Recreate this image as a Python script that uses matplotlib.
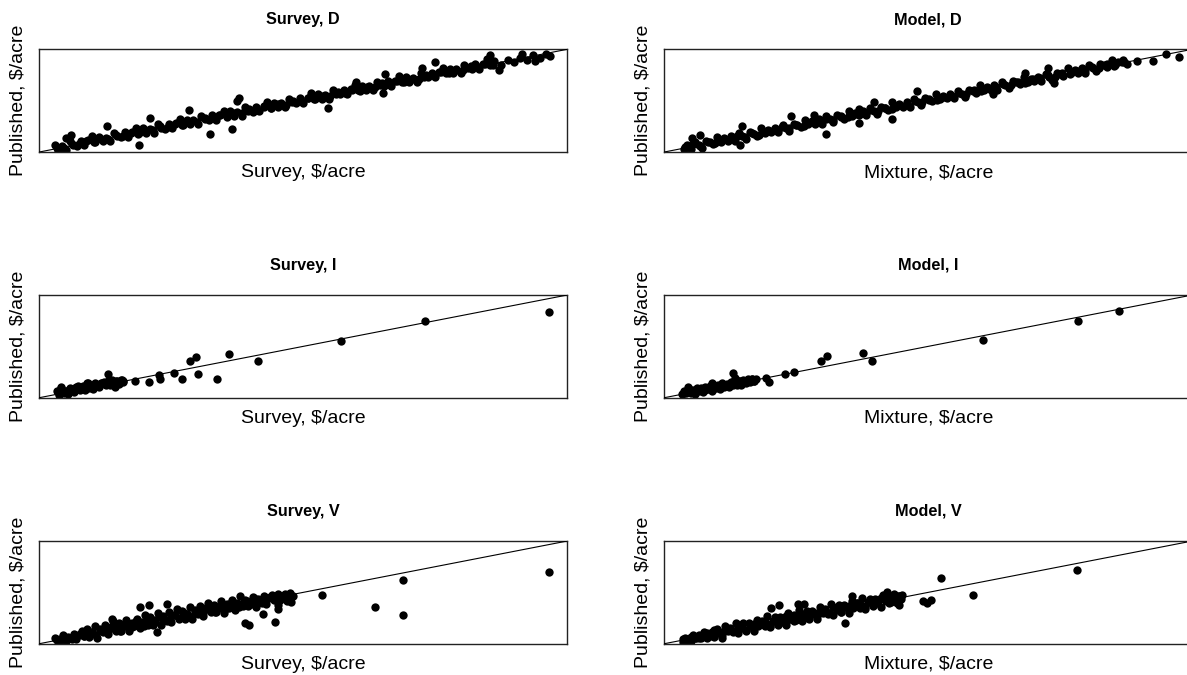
import matplotlib
matplotlib.use("Agg")
import matplotlib.pyplot as plt

plt.rcParams['font.family'] = ['Liberation Sans', 'DejaVu Sans']

# values, in plot units (box = 0..100 on both axes)
sd_x = [3.0, 3.6, 4.3, 5.1, 5.8, 6.4, 7.2, 7.9, 8.5, 9.3, 10.0, 10.6,
        11.3, 12.0, 12.6, 13.4, 14.1, 14.7, 15.5, 16.2, 16.8, 17.6, 18.3, 18.9,
        19.6, 20.3, 20.9, 21.7, 22.4, 23.0, 23.8, 24.5, 25.1, 25.9, 26.6, 27.2,
        27.9, 28.6, 29.2, 30.0, 30.7, 31.3, 32.1, 32.8, 33.4, 34.2, 34.9, 35.5,
        36.2, 36.9, 37.5, 38.3, 39.0, 39.6, 40.4, 41.1, 41.7, 42.5, 43.2, 43.8,
        44.5, 45.2, 45.8, 46.6, 47.3, 47.9, 48.7, 49.4, 50.0, 50.8, 51.5, 52.1,
        52.8, 53.5, 54.1, 54.9, 55.6, 56.2, 57.0, 57.7, 58.3, 59.1, 59.8, 60.4,
        61.1, 61.8, 62.4, 63.2, 63.9, 64.5, 65.3, 66.0, 66.6, 67.4, 68.1, 68.7,
        69.4, 70.1, 70.7, 71.5, 72.2, 72.8, 73.6, 74.3, 74.9, 75.7, 76.4, 77.0,
        77.7, 78.4, 79.0, 79.8, 80.5, 81.1, 81.9, 82.6, 83.2, 84.0, 84.7, 85.3,
        86.2, 87.5, 88.8, 89.9, 91.0, 92.3, 93.5, 94.8, 96.0,
        5.0, 6.0, 12.9, 18.8, 21.0, 28.3, 32.3, 36.5, 37.5, 37.8, 54.6,
        60.0, 65.4, 65.0, 75.0, 72.4, 85.3, 91.4, 93.8, 96.7, 87.0]
sd_y = [6.5, 2.1, 5.8, 2.1, 10.3, 6.9, 6.2, 10.9, 6.5, 11.3, 15.5, 10.1,
        14.8, 10.5, 14.1, 10.4, 18.6, 15.2, 14.5, 19.2, 14.8, 19.6, 23.8, 18.4,
        23.1, 18.8, 22.4, 18.7, 26.9, 23.5, 22.8, 27.5, 23.1, 27.9, 32.1, 26.7,
        31.4, 27.1, 30.7, 27.0, 35.2, 31.8, 31.1, 35.8, 31.4, 36.2, 40.4, 35.0,
        39.7, 35.4, 39.0, 35.3, 43.5, 40.1, 39.4, 44.1, 39.7, 44.5, 48.7, 43.3,
        48.0, 43.7, 47.3, 43.6, 51.8, 48.4, 47.7, 52.4, 48.0, 52.8, 57.0, 51.6,
        56.3, 52.0, 55.6, 51.9, 60.1, 56.7, 56.0, 60.7, 56.3, 61.1, 65.3, 59.9,
        64.6, 60.3, 63.9, 60.2, 68.4, 65.0, 64.3, 69.0, 64.6, 69.4, 73.6, 68.2,
        72.9, 68.6, 72.2, 68.5, 76.7, 73.3, 72.6, 77.3, 72.9, 77.7, 81.9, 76.5,
        81.2, 76.9, 80.5, 76.8, 85.0, 81.6, 80.9, 85.6, 81.2, 86.0, 90.2, 84.8,
        88.5, 85.0, 89.5, 87.5, 91.5, 90.0, 94.0, 92.0, 95.0,
        13.7, 17.0, 25.0, 7.0, 33.5, 41.0, 18.0, 22.0, 50.0, 52.5, 43.0,
        68.0, 76.0, 57.0, 88.0, 82.0, 94.5, 95.4, 88.6, 93.0, 80.0]
# points in the middle of the dense band
sd_core_x = [3.3, 4.7, 6.1, 7.5, 8.9, 10.3, 11.7, 13.1, 14.5, 15.9, 17.3, 18.7,
             20.1, 21.5, 22.9, 24.3, 25.7, 27.1, 28.5, 29.9, 31.3, 32.7, 34.1, 35.5,
             36.9, 38.3, 39.7, 41.1, 42.5, 43.9, 45.3, 46.7, 48.1, 49.5, 50.9, 52.3,
             53.7, 55.1, 56.5, 57.9, 59.3, 60.7, 62.1, 63.5, 64.9, 66.3, 67.7, 69.1,
             70.5, 71.9, 73.3, 74.7, 76.1, 77.5, 78.9, 80.3, 81.7, 83.1, 84.5, 85.9]
sd_core_y = [4.3, 4.2, 8.1, 7.5, 10.4, 9.3, 12.7, 12.6, 16.5, 15.9, 18.8, 17.7,
             21.1, 21.0, 24.9, 24.3, 27.2, 26.1, 29.5, 29.4, 33.3, 32.7, 35.6, 34.5,
             37.9, 37.8, 41.7, 41.1, 44.0, 42.9, 46.3, 46.2, 50.1, 49.5, 52.4, 51.3,
             54.7, 54.6, 58.5, 57.9, 60.8, 59.7, 63.1, 63.0, 66.9, 66.3, 69.2, 68.1,
             71.5, 71.4, 75.3, 74.7, 77.6, 76.5, 79.9, 79.8, 83.7, 83.1, 86.0, 84.9]

md_x = [3.7, 4.3, 5.0, 5.8, 6.5, 7.1, 7.9, 8.6, 9.2, 10.0, 10.7, 11.3,
        12.0, 12.7, 13.3, 14.1, 14.8, 15.4, 16.2, 16.9, 17.5, 18.3, 19.0, 19.6,
        20.3, 21.0, 21.6, 22.4, 23.1, 23.7, 24.5, 25.2, 25.8, 26.6, 27.3, 27.9,
        28.6, 29.3, 29.9, 30.7, 31.4, 32.0, 32.8, 33.5, 34.1, 34.9, 35.6, 36.2,
        36.9, 37.6, 38.2, 39.0, 39.7, 40.3, 41.1, 41.8, 42.4, 43.2, 43.9, 44.5,
        45.2, 45.9, 46.5, 47.3, 48.0, 48.6, 49.4, 50.1, 50.7, 51.5, 52.2, 52.8,
        53.5, 54.2, 54.8, 55.6, 56.3, 56.9, 57.7, 58.4, 59.0, 59.8, 60.5, 61.1,
        61.8, 62.5, 63.1, 63.9, 64.6, 65.2, 66.0, 66.7, 67.3, 68.1, 68.8, 69.4,
        70.1, 70.8, 71.4, 72.2, 72.9, 73.5, 74.3, 75.0, 75.6, 76.4, 77.1, 77.7,
        78.4, 79.1, 79.7, 80.5, 81.2, 81.8, 82.6, 83.3, 83.9, 84.7, 85.4, 86.0,
        86.8, 87.6,
        5.2, 6.8, 14.7, 14.3, 24.0, 28.3, 30.7, 36.8, 36.8, 39.8, 43.1,
        47.9, 68.4, 72.6, 62.3, 73.8, 89.6, 92.5, 95.1, 97.5, 87.1]
md_y = [2.7, 6.8, 2.5, 9.8, 7.0, 4.1, 10.9, 9.6, 7.7, 15.0, 10.2, 13.3,
        11.0, 15.2, 10.8, 18.1, 15.3, 12.4, 19.2, 17.9, 16.0, 23.3, 18.5, 21.6,
        19.3, 23.5, 19.1, 26.4, 23.6, 20.7, 27.5, 26.2, 24.3, 31.6, 26.8, 29.9,
        27.6, 31.8, 27.4, 34.7, 31.9, 29.0, 35.8, 34.5, 32.6, 39.9, 35.1, 38.2,
        35.9, 40.1, 35.7, 43.0, 40.2, 37.3, 44.1, 42.8, 40.9, 48.2, 43.4, 46.5,
        44.2, 48.4, 44.0, 51.3, 48.5, 45.6, 52.4, 51.1, 49.2, 56.5, 51.7, 54.8,
        52.5, 56.7, 52.3, 59.6, 56.8, 53.9, 60.7, 59.4, 57.5, 64.8, 60.0, 63.1,
        60.8, 65.0, 60.6, 67.9, 65.1, 62.2, 69.0, 67.7, 65.8, 73.1, 68.3, 71.4,
        69.1, 73.3, 68.9, 76.2, 73.4, 70.5, 77.3, 76.0, 74.1, 81.4, 76.6, 79.7,
        77.4, 81.6, 77.2, 84.5, 81.7, 78.8, 85.6, 84.3, 82.4, 89.7, 84.9, 88.0,
        89.5, 86.0,
        14.0, 17.0, 25.0, 6.5, 34.9, 36.5, 17.9, 28.3, 42.3, 48.9, 32.6,
        59.3, 77.2, 82.1, 56.0, 66.8, 88.6, 88.6, 95.4, 92.8, 88.0]
md_core_x = [4.0, 5.4, 6.8, 8.2, 9.6, 11.0, 12.4, 13.8, 15.2, 16.6, 18.0, 19.4,
             20.8, 22.2, 23.6, 25.0, 26.4, 27.8, 29.2, 30.6, 32.0, 33.4, 34.8, 36.2,
             37.6, 39.0, 40.4, 41.8, 43.2, 44.6, 46.0, 47.4, 48.8, 50.2, 51.6, 53.0,
             54.4, 55.8, 57.2, 58.6, 60.0, 61.4, 62.8, 64.2, 65.6, 67.0, 68.4, 69.8,
             71.2, 72.6, 74.0, 75.4, 76.8, 78.2, 79.6, 81.0, 82.4, 83.8, 85.2, 86.6]
md_core_y = [4.5, 7.4, 6.3, 9.7, 8.6, 12.0, 12.9, 15.8, 14.7, 18.1, 17.0, 20.4,
             21.3, 24.2, 23.1, 26.5, 25.4, 28.8, 29.7, 32.6, 31.5, 34.9, 33.8, 37.2,
             38.1, 41.0, 39.9, 43.3, 42.2, 45.6, 46.5, 49.4, 48.3, 51.7, 50.6, 54.0,
             54.9, 57.8, 56.7, 60.1, 59.0, 62.4, 63.3, 66.2, 65.1, 68.5, 67.4, 70.8,
             71.7, 74.6, 73.5, 76.9, 75.8, 79.2, 80.1, 83.0, 81.9, 85.3, 84.2, 87.6]

si_x = [3.4, 3.8, 4.2, 4.6, 5.0, 5.4, 5.8, 6.2, 6.6, 7.0, 7.4, 7.8,
        8.2, 8.6, 9.0, 9.4, 9.8, 10.2, 10.6, 11.0, 11.4, 11.8, 12.2, 12.6,
        13.0, 13.4, 13.8, 14.2, 14.6, 15.0, 15.4, 15.8,
        4.1, 13.0, 9.2, 14.3, 15.9, 18.1, 20.7, 22.7, 22.9, 25.6, 27.0,
        28.6, 29.6, 30.1, 33.6, 35.9, 41.5, 57.2, 73.1, 96.6]
si_y = [6.4, 2.8, 9.2, 4.6, 7.0, 3.4, 9.8, 7.2, 5.6, 10.0, 11.4, 7.8,
        11.2, 7.6, 14.0, 9.4, 11.8, 8.2, 14.6, 12.0, 10.4, 14.8, 15.2, 12.6,
        16.0, 12.4, 16.8, 14.2, 16.6, 13.0, 17.4, 16.4,
        10.4, 23.5, 14.7, 10.4, 15.3, 16.3, 15.3, 21.8, 18.6, 24.4, 18.6,
        35.5, 40.1, 23.5, 18.6, 42.7, 35.5, 55.4, 74.6, 83.7]
si_core_x = [3.6, 4.4, 5.2, 6.0, 6.8, 7.6, 8.4, 9.2, 10.0, 10.8, 11.6, 12.4,
             13.2, 14.0, 14.8, 15.6]
si_core_y = [5.6, 6.9, 6.2, 8.0, 9.3, 8.6, 10.4, 11.7, 11.0, 12.8, 14.1, 13.4,
             15.2, 16.5, 15.8, 17.1]

mi_x = [3.4, 3.8, 4.2, 4.6, 5.0, 5.4, 5.8, 6.2, 6.6, 7.0, 7.4, 7.8,
        8.2, 8.6, 9.0, 9.4, 9.8, 10.2, 10.6, 11.0, 11.4, 11.8, 12.2, 12.6,
        13.0, 13.4, 13.8, 14.2, 14.6, 15.0, 15.4, 15.8, 16.2, 16.6, 17.0, 17.4,
        4.5, 9.0, 13.1, 13.4, 14.5, 17.0, 19.2, 19.8, 22.8, 24.6, 29.6,
        30.9, 37.6, 39.3, 60.3, 78.3, 86.2]
mi_y = [3.4, 6.8, 4.2, 8.6, 5.0, 7.4, 3.8, 9.2, 6.6, 8.0, 5.4, 10.8,
        8.2, 11.6, 7.0, 12.4, 9.8, 12.2, 8.6, 14.0, 10.4, 12.8, 10.2, 15.6,
        12.0, 15.4, 12.8, 16.2, 14.6, 17.0, 14.4, 17.8, 15.2, 18.6, 16.0, 18.4,
        10.5, 14.4, 24.3, 18.7, 12.0, 16.4, 19.3, 15.4, 23.0, 24.9, 35.7,
        40.7, 43.3, 36.1, 56.4, 75.0, 84.3]
mi_core_x = [3.8, 4.6, 5.4, 6.2, 7.0, 7.8, 8.6, 9.4, 10.2, 11.0, 11.8, 12.6,
             13.4, 14.2, 15.0, 15.8, 16.6]
mi_core_y = [4.8, 6.6, 5.4, 7.2, 9.0, 7.8, 9.6, 11.4, 10.2, 12.0, 13.8, 12.6,
             14.4, 16.2, 15.0, 16.8, 18.6]

sv_x = [3.0, 3.5, 4.0, 4.5, 5.0, 5.5, 6.0, 6.5, 7.0, 7.5, 8.0, 8.5,
        9.0, 9.5, 10.0, 10.5, 11.0, 11.5, 12.0, 12.5, 13.0, 13.5, 14.0, 14.5,
        15.0, 15.5, 16.0, 16.5, 17.0, 17.5, 18.0, 18.5, 19.0, 19.5, 20.0, 20.5,
        21.0, 21.5, 22.0, 22.5, 23.0, 23.5, 24.0, 24.5, 25.0, 25.5, 26.0, 26.5,
        27.0, 27.5, 28.0, 28.5, 29.0, 29.5, 30.0, 30.5, 31.0, 31.5, 32.0, 32.5,
        33.0, 33.5, 34.0, 34.5, 35.0, 35.5, 36.0, 36.5, 37.0, 37.5, 38.0, 38.5,
        39.0, 39.5, 40.0, 40.5, 41.0, 41.5, 42.0, 42.5, 43.0, 43.5, 44.0, 44.5,
        45.0, 45.5, 46.0, 46.5, 47.0, 47.5, 48.0,
        19.0, 20.8, 24.1, 13.8, 22.3, 39.0, 39.7, 42.3, 44.7, 45.3, 45.2,
        47.7, 53.5, 63.5, 68.8, 68.9, 96.6]
sv_y = [5.5, 2.0, 4.5, 8.0, 2.5, 7.0, 5.5, 9.5, 5.0, 8.5, 12.0, 7.5,
        14.0, 6.5, 11.0, 17.5, 6.0, 14.5, 11.0, 18.5, 9.0, 15.5, 22.0, 12.5,
        20.0, 12.5, 17.0, 23.5, 12.0, 20.5, 17.0, 24.5, 15.0, 21.5, 28.0, 18.5,
        26.0, 18.5, 23.0, 29.5, 18.0, 26.5, 23.0, 30.5, 21.0, 27.5, 34.0, 24.5,
        32.0, 24.5, 29.0, 35.5, 24.0, 32.5, 29.0, 36.5, 27.0, 33.5, 40.0, 30.5,
        38.0, 30.5, 35.0, 41.5, 30.0, 38.5, 35.0, 42.5, 33.0, 39.5, 46.0, 36.5,
        43.0, 36.5, 41.0, 45.5, 36.0, 43.5, 41.0, 46.0, 39.0, 44.5, 47.0, 42.5,
        46.5, 42.5, 45.0, 48.0, 42.0, 47.5, 46.0,
        35.7, 37.4, 38.7, 24.0, 11.5, 19.7, 18.0, 28.5, 21.3, 33.8, 37.7,
        41.0, 47.5, 35.4, 62.3, 28.2, 69.5]
sv_core_x = [3.25, 4.0, 4.75, 5.5, 6.25, 7.0, 7.75, 8.5, 9.25, 10.0, 10.75, 11.5,
             12.25, 13.0, 13.75, 14.5, 15.25, 16.0, 16.75, 17.5, 18.25, 19.0, 19.75, 20.5,
             21.25, 22.0, 22.75, 23.5, 24.25, 25.0, 25.75, 26.5, 27.25, 28.0, 28.75, 29.5,
             30.25, 31.0, 31.75, 32.5, 33.25, 34.0, 34.75, 35.5, 36.25, 37.0, 37.75, 38.5,
             39.25, 40.0, 40.75, 41.5, 42.25, 43.0, 43.75, 44.5, 45.25, 46.0, 46.75, 47.5]
sv_core_y = [4.25, 3.5, 6.5, 5.75, 5.0, 7.75, 9.75, 7.5, 12.75, 10.5, 8.25, 13.0,
             14.25, 12.0, 17.25, 15.0, 12.75, 17.5, 18.75, 16.5, 21.75, 19.5, 17.25, 22.0,
             23.25, 21.0, 26.25, 24.0, 21.75, 26.5, 27.75, 25.5, 30.75, 28.5, 26.25, 31.0,
             32.25, 30.0, 35.25, 33.0, 30.75, 35.5, 36.75, 34.5, 39.75, 37.5, 35.25, 40.0,
             41.25, 39.0, 44.25, 42.0, 39.75, 44.5, 45.75, 43.5, 48.75, 46.5, 44.25, 49.0]

mv_x = [3.5, 4.0, 4.5, 5.0, 5.5, 6.0, 6.5, 7.0, 7.5, 8.0, 8.5, 9.0,
        9.5, 10.0, 10.5, 11.0, 11.5, 12.0, 12.5, 13.0, 13.5, 14.0, 14.5, 15.0,
        15.5, 16.0, 16.5, 17.0, 17.5, 18.0, 18.5, 19.0, 19.5, 20.0, 20.5, 21.0,
        21.5, 22.0, 22.5, 23.0, 23.5, 24.0, 24.5, 25.0, 25.5, 26.0, 26.5, 27.0,
        27.5, 28.0, 28.5, 29.0, 29.5, 30.0, 30.5, 31.0, 31.5, 32.0, 32.5, 33.0,
        33.5, 34.0, 34.5, 35.0, 35.5, 36.0, 36.5, 37.0, 37.5, 38.0, 38.5, 39.0,
        39.5, 40.0, 40.5, 41.0, 41.5, 42.0, 42.5, 43.0, 43.5, 44.0, 44.5, 45.0,
        20.3, 21.7, 25.3, 26.4, 34.3, 35.6, 42.2, 44.7, 44.5, 49.0, 49.7,
        50.6, 52.4, 58.5, 78.2]
mv_y = [2.0, 6.0, 5.0, 2.5, 8.5, 6.0, 8.0, 6.0, 11.0, 6.0, 9.5, 11.5,
        6.5, 14.0, 11.5, 6.0, 17.5, 12.0, 15.5, 11.0, 20.5, 10.0, 16.5, 20.0,
        12.5, 20.0, 17.5, 12.0, 23.5, 18.0, 21.5, 17.0, 26.5, 16.0, 22.5, 26.0,
        18.5, 26.0, 23.5, 18.0, 29.5, 24.0, 27.5, 23.0, 32.5, 22.0, 28.5, 32.0,
        24.5, 32.0, 29.5, 24.0, 35.5, 30.0, 33.5, 29.0, 38.5, 28.0, 34.5, 38.0,
        30.5, 38.0, 35.5, 30.0, 41.5, 36.0, 39.5, 35.0, 44.5, 34.0, 40.5, 44.0,
        36.5, 44.0, 41.5, 36.0, 47.5, 42.0, 45.5, 41.0, 48.5, 40.0, 46.5, 47.0,
        34.9, 37.5, 38.8, 38.8, 20.2, 46.9, 50.2, 46.3, 38.1, 41.4, 39.7,
        42.3, 63.5, 47.9, 71.3]
mv_core_x = [3.5, 4.25, 5.0, 5.75, 6.5, 7.25, 8.0, 8.75, 9.5, 10.25, 11.0, 11.75,
             12.5, 13.25, 14.0, 14.75, 15.5, 16.25, 17.0, 17.75, 18.5, 19.25, 20.0, 20.75,
             21.5, 22.25, 23.0, 23.75, 24.5, 25.25, 26.0, 26.75, 27.5, 28.25, 29.0, 29.75,
             30.5, 31.25, 32.0, 32.75, 33.5, 34.25, 35.0, 35.75, 36.5, 37.25, 38.0, 38.75,
             39.5, 40.25, 41.0, 41.75, 42.5, 43.25, 44.0, 44.75]
mv_core_y = [4.5, 3.75, 6.75, 6.0, 5.25, 8.0, 10.0, 7.75, 13.0, 10.75, 8.5, 13.25,
             14.5, 12.25, 17.5, 15.25, 13.0, 17.75, 19.0, 16.75, 22.0, 19.75, 17.5, 22.25,
             23.5, 21.25, 26.5, 24.25, 22.0, 26.75, 28.0, 25.75, 31.0, 28.75, 26.5, 31.25,
             32.5, 30.25, 35.5, 33.25, 31.0, 35.75, 37.0, 34.75, 40.0, 37.75, 35.5, 40.25,
             41.5, 39.25, 44.5, 42.25, 40.0, 44.75, 46.0, 43.75]

titles = ["Survey, D", "Model, D", "Survey, I", "Model, I", "Survey, V", "Model, V"]
xlabels = ["Survey, \\$/acre", "Mixture, \\$/acre"]
ylabel = "Published, \\$/acre"
panels = [(sd_x + sd_core_x, sd_y + sd_core_y),
          (md_x + md_core_x, md_y + md_core_y),
          (si_x + si_core_x, si_y + si_core_y),
          (mi_x + mi_core_x, mi_y + mi_core_y),
          (sv_x + sv_core_x, sv_y + sv_core_y),
          (mv_x + mv_core_x, mv_y + mv_core_y)]

W, H = 1187, 675
fig = plt.figure(figsize=(W / 100, H / 100), dpi=100)
box_w, box_h = 528, 102.7
lefts = [39.3, 664.3]
tops = [49.3, 295.0, 541.0]

for i, (px, py) in enumerate(panels):
    row, col = i // 2, i % 2
    l, t = lefts[col], tops[row]
    ax = fig.add_axes([l / W, 1 - (t + box_h) / H, box_w / W, box_h / H])
    ax.scatter(px, py, s=36, c='black', linewidths=0, zorder=2)
    ax.plot([0, 100], [0, 100], color='black', lw=0.8, zorder=3)
    ax.set_xlim(0, 100)
    ax.set_ylim(0, 100)
    ax.set_xticks([])
    ax.set_yticks([])
    for sp in ax.spines.values():
        sp.set_linewidth(1.0)
        sp.set_color('#222222')
    ax.text(0.5, 1 + 29.5 / box_h, titles[i], transform=ax.transAxes,
            ha='center', va='center', fontsize=11.7, fontweight='bold')
    ax.text(0.5, -20.5 / box_h, xlabels[col], transform=ax.transAxes,
            ha='center', va='center', fontsize=14)
    ax.text(-21.0 / box_w, 0.5, ylabel, transform=ax.transAxes,
            ha='center', va='center', rotation=90, fontsize=14)

fig.savefig("out.png", dpi=100)
